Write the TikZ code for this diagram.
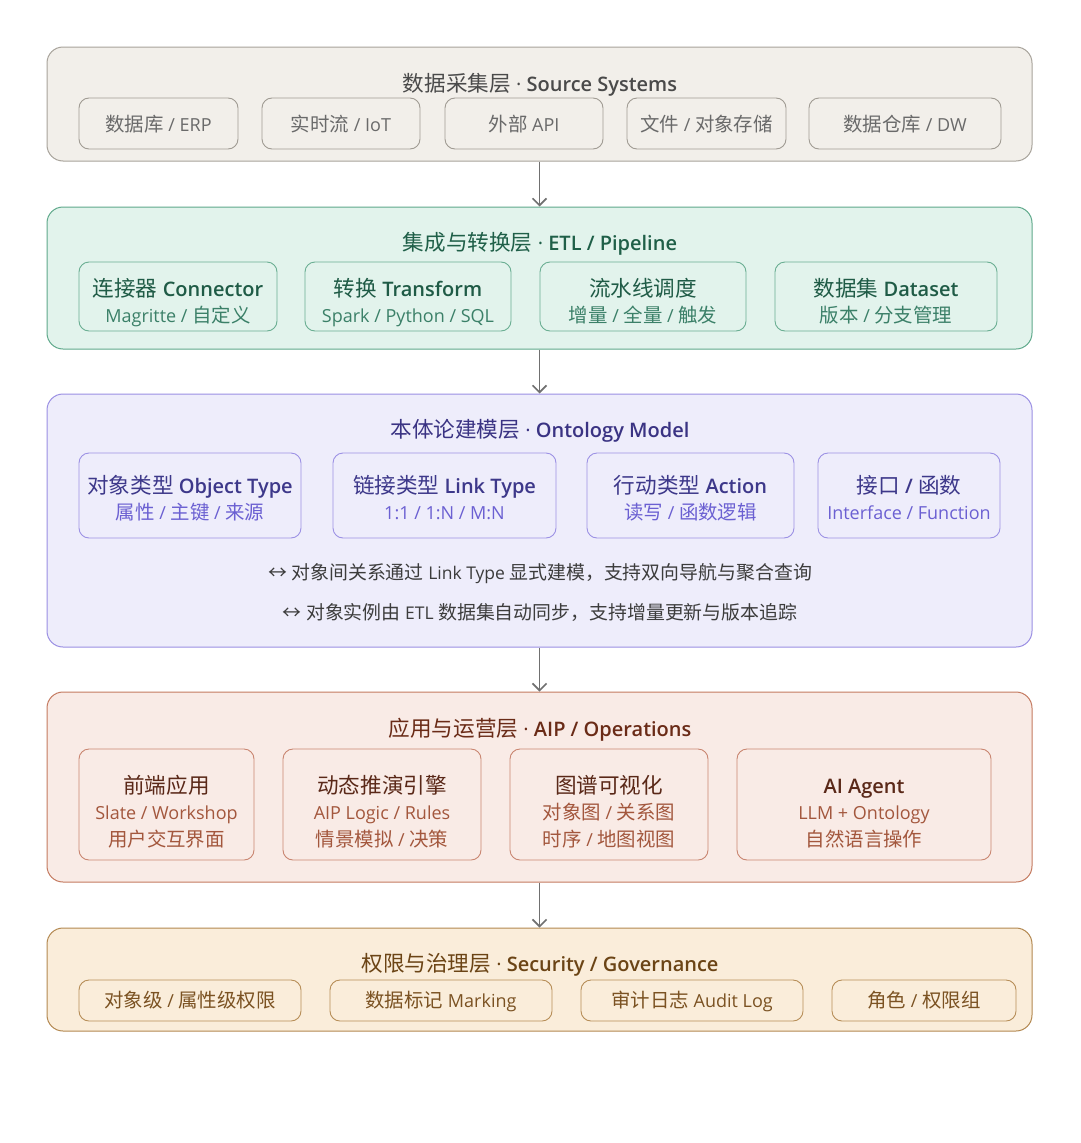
\documentclass[tikz,border=0pt]{standalone}
\usepackage{fontspec}
\IfFontExistsTF{Open Sans SemiBold}{\setmainfont{Open Sans}[BoldFont={Open Sans SemiBold}]}{%
  \IfFontExistsTF{Open Sans Semibold}{\setmainfont{Open Sans}[BoldFont={Open Sans Semibold}]}{\setmainfont{Open Sans}}}
\newfontfamily\cjkfont{Noto Sans CJK SC}[Scale=1.08]
\usetikzlibrary{arrows.meta}
\XeTeXinterchartokenstate=1
\newXeTeXintercharclass\CJKcls
\newcount\cjkc
\cjkc="4E00
\loop \XeTeXcharclass\cjkc=\CJKcls \ifnum\cjkc<"9FFF \advance\cjkc by 1 \repeat
\cjkc="3000
\loop \XeTeXcharclass\cjkc=\CJKcls \ifnum\cjkc<"303F \advance\cjkc by 1 \repeat
\cjkc="FF00
\loop \XeTeXcharclass\cjkc=\CJKcls \ifnum\cjkc<"FFEF \advance\cjkc by 1 \repeat
\XeTeXcharclass"2194=\CJKcls
\XeTeXinterchartoks 0 \CJKcls={\begingroup\cjkfont}
\XeTeXinterchartoks 4095 \CJKcls={\begingroup\cjkfont}
\XeTeXinterchartoks \CJKcls 0={\endgroup}
\XeTeXinterchartoks \CJKcls 4095={\endgroup}
\definecolor{aF}{HTML}{F2EFEA}\definecolor{aD}{HTML}{A8A39B}\definecolor{aT}{HTML}{4A4A4A}\definecolor{aI}{HTML}{A09B93}\definecolor{aS}{HTML}{6A6A6A}
\definecolor{bF}{HTML}{E2F3EC}\definecolor{bD}{HTML}{5FA98B}\definecolor{bT}{HTML}{1F5F48}\definecolor{bI}{HTML}{6AAE92}\definecolor{bH}{HTML}{1F5B46}\definecolor{bS}{HTML}{3B8068}
\definecolor{cF}{HTML}{EEEDFB}\definecolor{cD}{HTML}{9A8FE3}\definecolor{cT}{HTML}{3A3383}\definecolor{cI}{HTML}{9C91E4}\definecolor{cH}{HTML}{3D388A}\definecolor{cS}{HTML}{6B60D2}\definecolor{cN}{HTML}{3C3C3C}
\definecolor{dF}{HTML}{F9EBE6}\definecolor{dD}{HTML}{C47A60}\definecolor{dT}{HTML}{6A2B17}\definecolor{dI}{HTML}{C98570}\definecolor{dH}{HTML}{5A2818}\definecolor{dS}{HTML}{A3573D}
\definecolor{eF}{HTML}{FAEDDA}\definecolor{eD}{HTML}{B38850}\definecolor{eT}{HTML}{6B4415}\definecolor{eI}{HTML}{B68D57}\definecolor{eS}{HTML}{7B5222}
\definecolor{arrowc}{HTML}{707070}
\tikzset{
  layerbox/.style={draw, rounded corners=16pt, line width=1pt, inner sep=0pt},
  innerbox/.style={draw, rounded corners=10pt, line width=0.9pt, inner sep=0pt},
  flowarrow/.style={draw=arrowc, line width=1.6pt, -{Straight Barb[length=7pt,width=14pt]}},
  ttl/.style={anchor=base, font=\fontsize{20}{24}\selectfont, inner sep=0pt},
  hdr/.style={anchor=base, font=\fontsize{20}{24}\selectfont, inner sep=0pt},
  sub/.style={anchor=base, font=\fontsize{18}{22}\selectfont, inner sep=0pt},
  note/.style={anchor=base, font=\fontsize{17.5}{22}\selectfont, inner sep=0pt},
  lbl/.style={anchor=base, font=\fontsize{18}{22}\selectfont, inner sep=0pt},
}
% name, x1, y1, x2, y2, style
\newcommand{\bx}[6]{\node[#6, minimum width={#4pt-#2pt}, minimum height={#5pt-#3pt}] (#1) at ({(#2+#4)/2},{(#3+#5)/2}) {};}
\begin{document}
\begin{tikzpicture}[x=1pt,y=-1pt]
\useasboundingbox[fill=white] (0,0) rectangle (1080,1143);
% ---------- Layer 1
\bx{L1}{47}{47}{1032}{161}{layerbox, draw=aD, fill=aF}
\node[ttl, text=aT] (t1) at (540,91.6) {数据采集层 · \textbf{Source Systems}};
\bx{a1}{79}{98}{238}{149}{innerbox, draw=aI}
\bx{a2}{262}{98}{420}{149}{innerbox, draw=aI}
\bx{a3}{445}{98}{603}{149}{innerbox, draw=aI}
\bx{a4}{627}{98}{786}{149}{innerbox, draw=aI}
\bx{a5}{809}{98}{1001}{149}{innerbox, draw=aI}
\node[lbl, text=aS] (a1t) at (158.5,131.5) {数据库 / ERP};
\node[lbl, text=aS] (a2t) at (341,131.5) {实时流 / IoT};
\node[lbl, text=aS] (a3t) at (524,131.5) {外部 API};
\node[lbl, text=aS] (a4t) at (706.5,131.5) {文件 / 对象存储};
\node[lbl, text=aS] (a5t) at (905,131.5) {数据仓库 / DW};
% ---------- Layer 2
\bx{L2}{47}{207}{1032}{349}{layerbox, draw=bD, fill=bF}
\node[ttl, text=bT] (t2) at (540,250.6) {集成与转换层 · \textbf{ETL / Pipeline}};
\bx{b1}{79}{262}{277}{331}{innerbox, draw=bI}
\bx{b2}{305}{262}{511}{331}{innerbox, draw=bI}
\bx{b3}{540}{262}{746}{331}{innerbox, draw=bI}
\bx{b4}{775}{262}{997}{331}{innerbox, draw=bI}
\node[hdr, text=bH] (b1h) at (178,296.6) {连接器 \textbf{Connector}};
\node[sub, text=bS] (b1s) at (178,322.5) {Magritte / 自定义};
\node[hdr, text=bH] (b2h) at (408,296.6) {转换 \textbf{Transform}};
\node[sub, text=bS] (b2s) at (408,322.5) {Spark / Python / SQL};
\node[hdr, text=bH] (b3h) at (643,296.6) {流水线调度};
\node[sub, text=bS] (b3s) at (643,322.5) {增量 / 全量 / 触发};
\node[hdr, text=bH] (b4h) at (886,296.6) {数据集 \textbf{Dataset}};
\node[sub, text=bS] (b4s) at (886,322.5) {版本 / 分支管理};
% ---------- Layer 3
\bx{L3}{47}{394}{1032}{647}{layerbox, draw=cD, fill=cF}
\node[ttl, text=cT] (t3) at (540,437.6) {本体论建模层 · \textbf{Ontology Model}};
\bx{c1}{79}{453}{301}{538}{innerbox, draw=cI}
\bx{c2}{333}{453}{556}{538}{innerbox, draw=cI}
\bx{c3}{587}{453}{794}{538}{innerbox, draw=cI}
\bx{c4}{818}{453}{1000}{538}{innerbox, draw=cI}
\node[hdr, text=cH] (c1h) at (190,493.6) {对象类型 \textbf{Object Type}};
\node[sub, text=cS] (c1s) at (190,519.5) {属性 / 主键 / 来源};
\node[hdr, text=cH] (c2h) at (444.5,493.6) {链接类型 \textbf{Link Type}};
\node[sub, text=cS] (c2s) at (444.5,519.5) {1:1 / 1:N / M:N};
\node[hdr, text=cH] (c3h) at (690.5,493.6) {行动类型 \textbf{Action}};
\node[sub, text=cS] (c3s) at (690.5,519.5) {读写 / 函数逻辑};
\node[hdr, text=cH] (c4h) at (909,493.6) {接口 \textbf{/} 函数};
\node[sub, text=cS] (c4s) at (909,519.5) {Interface / Function};
\node[note, text=cN] (n1) at (540,579.5) {↔ 对象间关系通过 Link Type 显式建模，支持双向导航与聚合查询};
\node[note, text=cN] (n2) at (540,619.5) {↔ 对象实例由 ETL 数据集自动同步，支持增量更新与版本追踪};
% ---------- Layer 4
\bx{L4}{47}{692}{1032}{882}{layerbox, draw=dD, fill=dF}
\node[ttl, text=dT] (t4) at (540,736.6) {应用与运营层 · \textbf{AIP / Operations}};
\bx{d1}{79}{749}{254}{860}{innerbox, draw=dI}
\bx{d2}{283}{749}{481}{860}{innerbox, draw=dI}
\bx{d3}{510}{749}{708}{860}{innerbox, draw=dI}
\bx{d4}{737}{749}{991}{860}{innerbox, draw=dI}
\node[hdr, text=dH] (d1h) at (166.5,793.6) {前端应用};
\node[sub, text=dS] (d1s) at (166.5,819.5) {Slate / Workshop};
\node[sub, text=dS] (d1u) at (166.5,846.5) {用户交互界面};
\node[hdr, text=dH] (d2h) at (382,793.6) {动态推演引擎};
\node[sub, text=dS] (d2s) at (382,819.5) {AIP Logic / Rules};
\node[sub, text=dS] (d2u) at (382,846.5) {情景模拟 / 决策};
\node[hdr, text=dH] (d3h) at (609,793.6) {图谱可视化};
\node[sub, text=dS] (d3s) at (609,819.5) {对象图 / 关系图};
\node[sub, text=dS] (d3u) at (609,846.5) {时序 / 地图视图};
\node[hdr, text=dH] (d4h) at (864,793.6) {\textbf{AI Agent}};
\node[sub, text=dS] (d4s) at (864,819.5) {LLM + Ontology};
\node[sub, text=dS] (d4u) at (864,846.5) {自然语言操作};
% ---------- Layer 5
\bx{L5}{47}{928}{1032}{1031}{layerbox, draw=eD, fill=eF}
\node[ttl, text=eT] (t5) at (540,971.6) {权限与治理层 · \textbf{Security / Governance}};
\bx{e1}{79}{980}{301}{1021}{innerbox, draw=eI}
\bx{e2}{330}{980}{552}{1021}{innerbox, draw=eI}
\bx{e3}{581}{980}{803}{1021}{innerbox, draw=eI}
\bx{e4}{832}{980}{1016}{1021}{innerbox, draw=eI}
\node[lbl, text=eS] (e1t) at (190,1007.8) {对象级 / 属性级权限};
\node[lbl, text=eS] (e2t) at (441,1007.8) {数据标记 Marking};
\node[lbl, text=eS] (e3t) at (692,1007.8) {审计日志 Audit Log};
\node[lbl, text=eS] (e4t) at (924,1007.8) {角色 / 权限组};
% ---------- arrows
\draw[flowarrow] (L1.south) -- (L2.north);
\draw[flowarrow] (L2.south) -- (L3.north);
\draw[flowarrow] (L3.south) -- (L4.north);
\draw[flowarrow] (L4.south) -- (L5.north);
\end{tikzpicture}
\end{document}
